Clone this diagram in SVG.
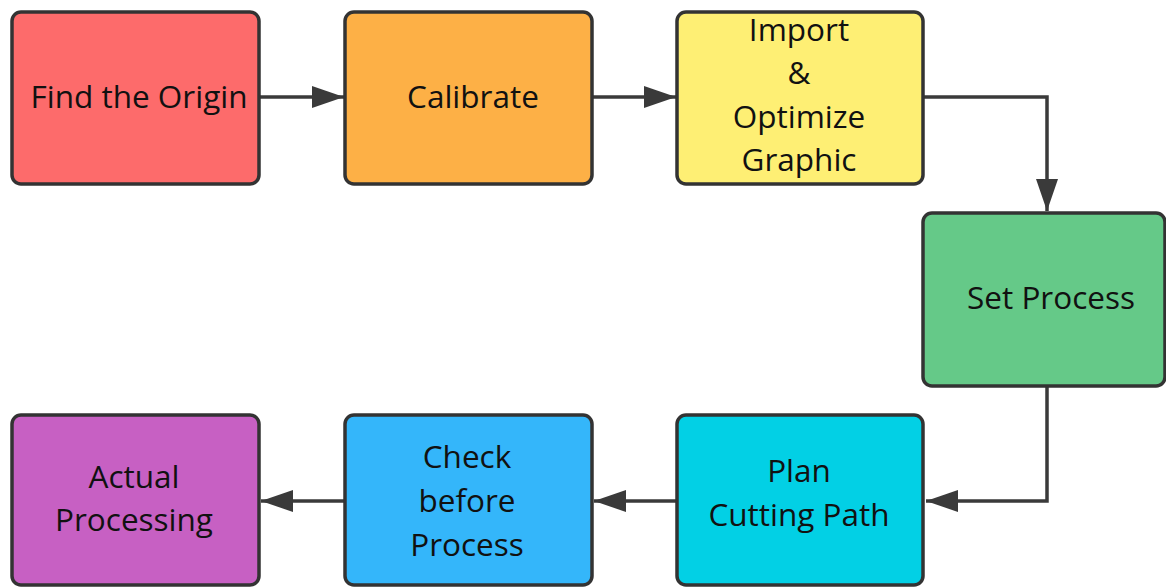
<svg xmlns="http://www.w3.org/2000/svg" width="1166" height="587" viewBox="0 0 1166 587">
<style>
.box{stroke:#333;stroke-width:3.5}
.lbl{font-family:"Open Sans","Noto Sans",sans-serif;font-size:31.5px;fill:#111;text-anchor:middle}
.con{fill:none;stroke:#3a3a3a;stroke-width:3.5}
</style>
<defs>
<marker id="ah" markerUnits="userSpaceOnUse" markerWidth="34" markerHeight="24" refX="32" refY="11" orient="auto">
<path d="M0,0 L32,11 L0,22 Z" fill="#3a3a3a"/>
</marker>
</defs>
<rect width="1166" height="587" fill="#fff"/>
<g id="connectors">
<path class="con" d="M259,97 L344,97" marker-end="url(#ah)"/>
<path class="con" d="M592,97 L676,97" marker-end="url(#ah)"/>
<path class="con" d="M924,97 L1047,97 L1047,211" marker-end="url(#ah)"/>
<path class="con" d="M1047,386 L1047,501 L926,501" marker-end="url(#ah)"/>
<path class="con" d="M677,501 L594,501" marker-end="url(#ah)"/>
<path class="con" d="M345,501 L261,501" marker-end="url(#ah)"/>
</g>
<g id="n1"><rect class="box" x="12" y="12" width="247" height="172" rx="9" fill="#FD6B6B"/><text class="lbl" x="139" y="108">Find the Origin</text></g>
<g id="n2"><rect class="box" x="345" y="12" width="247" height="172" rx="9" fill="#FDB046"/><text class="lbl" x="473" y="108">Calibrate</text></g>
<g id="n3"><rect class="box" x="677" y="12" width="246" height="172" rx="9" fill="#FEEF74"/>
<text class="lbl" x="799" y="41">Import</text><text class="lbl" x="799" y="84">&amp;</text><text class="lbl" x="799" y="128">Optimize</text><text class="lbl" x="799" y="171">Graphic</text></g>
<g id="n4"><rect class="box" x="923" y="213" width="242" height="173" rx="9" fill="#65C988"/><text class="lbl" x="1051" y="309">Set Process</text></g>
<g id="n5"><rect class="box" x="677" y="415" width="246" height="170" rx="9" fill="#02D0E5"/><text class="lbl" x="799" y="482">Plan</text><text class="lbl" x="799" y="526">Cutting Path</text></g>
<g id="n6"><rect class="box" x="345" y="415" width="247" height="170" rx="9" fill="#34B6FA"/><text class="lbl" x="467" y="468">Check</text><text class="lbl" x="467" y="512">before</text><text class="lbl" x="467" y="556">Process</text></g>
<g id="n7"><rect class="box" x="12" y="415" width="247" height="170" rx="9" fill="#C760C3"/><text class="lbl" x="134" y="488">Actual</text><text class="lbl" x="134" y="531">Processing</text></g>
</svg>
